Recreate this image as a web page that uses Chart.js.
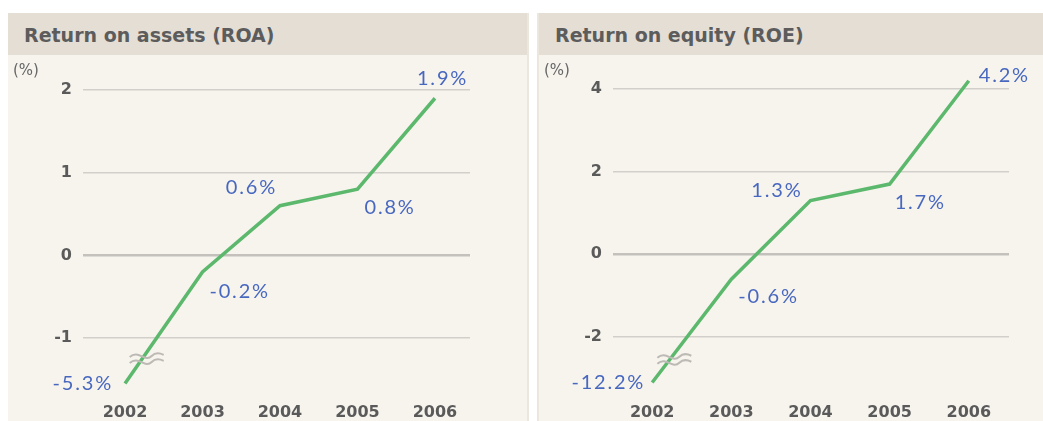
<!DOCTYPE html>
<html>
<head>
<meta charset="utf-8">
<script src="https://cdn.jsdelivr.net/npm/chart.js@4/dist/chart.umd.min.js"></script>
<style>
  body { margin: 0; background: #fff; width: 1043px; height: 421px; overflow: hidden; font-family: Lato, sans-serif; }
  .panel { position: absolute; top: 13px; height: 408px; background: #f7f4ee; }
  .panel .head { height: 42px; background: #e4ded5; color: #5c5c5c; font-family: "DejaVu Sans", sans-serif; font-weight: bold; font-size: 19px; line-height: 44px; padding-left: 16px; }
  .panel .unit { position: absolute; left: 5px; top: 48px; font-family: "DejaVu Sans", sans-serif; font-size: 15px; color: #666; }
  .panel .body { position: absolute; left: 0; top: 42px; right: 0; bottom: 0; }
  .panel canvas { display: block; }
  #roaPanel { left: 8px; width: 521px; border-right: 2px solid #ece7de; box-sizing: border-box; }
  #roePanel { left: 537px; width: 506px; border-left: 2px solid #ece7de; box-sizing: border-box; }
</style>
</head>
<body>
<div class="panel" id="roaPanel">
  <div class="head">Return on assets (ROA)</div>
  <div class="body"><canvas id="roa"></canvas></div>
  <div class="unit">(%)</div>
</div>
<div class="panel" id="roePanel">
  <div class="head">Return on equity (ROE)</div>
  <div class="body"><canvas id="roe"></canvas></div>
  <div class="unit">(%)</div>
</div>
<script>
const years = [2002, 2003, 2004, 2005, 2006];

const roaValues = [-5.3, -0.2, 0.6, 0.8, 1.9];
const roaTicks = [-1, 0, 1, 2];
const roaBreak = -1.55; // values below this are drawn at the axis break

const roeValues = [-12.2, -0.6, 1.3, 1.7, 4.2];
const roeTicks = [-2, 0, 2, 4];
const roeBreak = -3.1;

// label offsets from each point: [dx, dy, align]
const roaLabelPos = [[-12, 0, 'right'], [7, 20, 'left'], [-3, -18, 'right'], [7, 18, 'left'], [-18, -20, 'left']];
const roeLabelPos = [[-7, 0, 'right'], [7, 17, 'left'], [-8, -10, 'right'], [5, 18, 'left'], [10, -5, 'left']];

const valueLabels = {
  id: 'valueLabels',
  afterDatasetsDraw(chart, args, opts) {
    const { ctx } = chart;
    const pts = chart.getDatasetMeta(0).data;
    ctx.save();
    ctx.font = '20px Lato, sans-serif';
    ctx.letterSpacing = '1.8px';
    ctx.fillStyle = '#4868c0';
    ctx.textBaseline = 'middle';
    pts.forEach((p, i) => {
      const [dx, dy, align] = opts.pos[i];
      ctx.textAlign = align;
      ctx.fillText(opts.values[i].toFixed(1) + '%', p.x + dx, p.y + dy);
    });
    ctx.restore();
  },
};

// the little "≈" break mark on the first segment
const breakMark = {
  id: 'breakMark',
  afterDatasetsDraw(chart) {
    const { ctx } = chart;
    const pts = chart.getDatasetMeta(0).data;
    const x = pts[0].x + (pts[1].x - pts[0].x) * 0.28;
    const y = pts[0].y + (pts[1].y - pts[0].y) * 0.22;
    ctx.save();
    ctx.strokeStyle = '#bdbab5';
    ctx.lineWidth = 2;
    [-3, 3].forEach((o) => {
      ctx.beginPath();
      ctx.moveTo(x - 17, y + o + 1);
      ctx.bezierCurveTo(x - 8, y + o - 7, x - 2, y + o + 7, x + 5, y + o);
      ctx.bezierCurveTo(x + 9, y + o - 4, x + 13, y + o - 3, x + 17, y + o - 1);
      ctx.stroke();
    });
    ctx.restore();
  },
};

const tickFont = { family: '"DejaVu Sans", sans-serif', size: 16, weight: 'bold' };

function makeChart(id, values, ticks, breakAt, cfg) {
  const canvas = document.getElementById(id);
  const plotted = values.map((v) => Math.max(v, breakAt));
  // eslint-disable-next-line no-new
  new Chart(canvas, {
    type: 'line',
    data: {
      datasets: [{
        data: years.map((yr, i) => ({ x: yr, y: plotted[i] })),
        borderColor: '#5cb86c',
        borderWidth: 3.5,
        pointRadius: 0,
        tension: 0,
        clip: false,
      }],
    },
    options: {
      responsive: false,
      animation: false,
      events: [],
      layout: { padding: { top: 0, right: cfg.padRight, left: 0, bottom: 0 } },
      plugins: {
        legend: { display: false },
        tooltip: { enabled: false },
        valueLabels: { values, pos: cfg.labelPos },
      },
      scales: {
        x: {
          type: 'linear',
          min: cfg.xMin,
          max: cfg.xMax,
          afterBuildTicks: (s) => { s.ticks = years.map((v) => ({ value: v })); },
          afterFit: (s) => { s.height = 23.6; },
          grid: { display: false, drawTicks: false },
          border: { display: false },
          ticks: {
            color: '#5a5a5a',
            font: tickFont,
            padding: 6,
            maxRotation: 0,
            callback: (v) => String(v),
          },
        },
        y: {
          min: cfg.yMin,
          max: cfg.yMax,
          afterBuildTicks: (s) => { s.ticks = ticks.map((v) => ({ value: v })); },
          afterFit: (s) => { s.width = cfg.axisWidth; },
          grid: {
            color: (c) => (c.tick && c.tick.value === 0 ? '#c4c1bc' : '#d2cfca'),
            lineWidth: (c) => (c.tick && c.tick.value === 0 ? 2.5 : 1.5),
            drawTicks: false,
          },
          border: { display: false },
          ticks: {
            color: '#5a5a5a',
            font: tickFont,
            padding: 11,
          },
        },
      },
    },
    plugins: [valueLabels, breakMark],
  });
}

function sizeCanvas(id, w, h) {
  const c = document.getElementById(id);
  c.width = w; c.height = h;
  c.style.width = w + 'px'; c.style.height = h + 'px';
}

sizeCanvas('roa', 519, 366);
sizeCanvas('roe', 504, 366);

makeChart('roa', roaValues, roaTicks, roaBreak, {
  xMin: 2001.458, xMax: 2006.452, yMin: -1.718, yMax: 2.174,
  axisWidth: 75, padRight: 57, labelPos: roaLabelPos,
});
makeChart('roe', roeValues, roeTicks, roeBreak, {
  xMin: 2001.505, xMax: 2006.508, yMin: -3.461, yMax: 4.324,
  axisWidth: 74, padRight: 34, labelPos: roeLabelPos,
});
</script>
</body>
</html>
